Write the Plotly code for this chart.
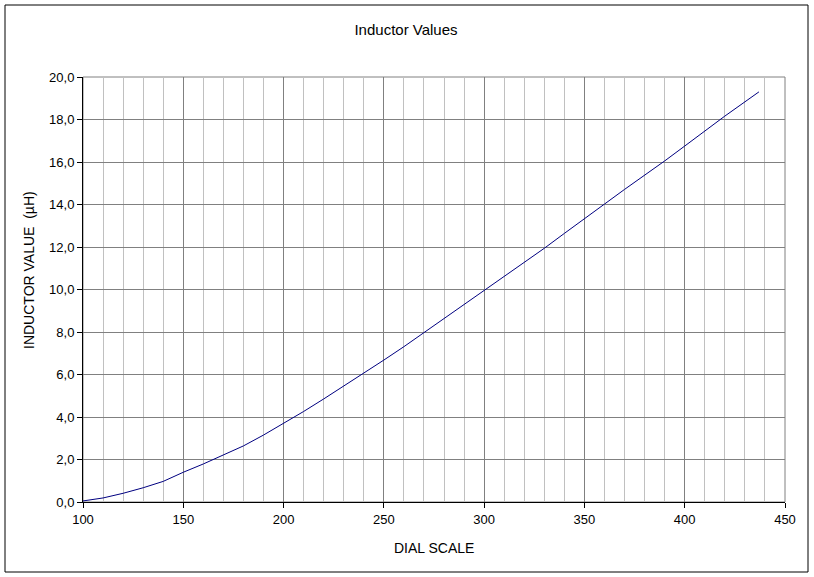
import plotly.graph_objects as go

# dial scale readings and the matching inductor values (uH)
dial = [100, 110, 120, 130, 140, 150, 160, 170, 180, 190, 200, 210, 220,
        230, 240, 250, 260, 270, 280, 290, 300, 310, 320, 330, 340, 350,
        360, 370, 380, 390, 400, 410, 420, 437]
inductance = [0.05, 0.19, 0.41, 0.67, 0.97, 1.40, 1.79, 2.20, 2.64, 3.15,
              3.70, 4.26, 4.85, 5.45, 6.06, 6.68, 7.31, 7.97, 8.64, 9.27,
              9.94, 10.62, 11.28, 11.94, 12.64, 13.35, 14.02, 14.71, 15.36,
              16.05, 16.75, 17.47, 18.16, 19.30]

x_ticks = [100, 150, 200, 250, 300, 350, 400, 450]
y_ticks = [0, 2, 4, 6, 8, 10, 12, 14, 16, 18, 20]

W, H = 814, 577
L, R, T, B = 83, 29, 77, 75
pw, ph = W - L - R, H - T - B


def px_x(p):
    return (p - L) / pw


def px_y(p):
    return (H - B - p) / ph


font = "Liberation Sans, Arial, sans-serif"

fig = go.Figure()
fig.add_trace(go.Scatter(x=dial, y=inductance, mode="lines",
                         line=dict(color="#000080", width=1),
                         hoverinfo="x+y"))

fig.update_layout(
    width=W, height=H,
    margin=dict(l=L, r=R, t=T, b=B),
    paper_bgcolor="white", plot_bgcolor="white",
    separators=",.",
    showlegend=False,
    font=dict(family=font, size=13, color="black"),
    title=dict(text="Inductor Values", x=406 / W, xanchor="center",
               y=1 - 30 / H, yanchor="middle",
               font=dict(family=font, size=15, color="black")),
)

fig.update_xaxes(
    range=[100, 450], tickvals=x_ticks, ticks="outside", ticklen=5,
    tickcolor="black", showline=True, linecolor="black", linewidth=1,
    showgrid=True, gridcolor="#808080", gridwidth=1, zeroline=False,
    minor=dict(dtick=10, showgrid=True, gridcolor="#c0c0c0", ticks=""),
    tickfont=dict(size=13),
)
fig.update_yaxes(
    range=[0, 20], tickvals=y_ticks, tickformat=".1f", ticks="outside",
    ticklen=5, tickcolor="black", showline=True, linecolor="black",
    linewidth=1, showgrid=True, gridcolor="#808080", gridwidth=1,
    zeroline=False, tickfont=dict(size=13),
)

# gray frame on top/right of the plot area
fig.add_shape(type="rect", xref="paper", yref="paper", x0=0, x1=1, y0=0, y1=1,
              line=dict(color="#808080", width=1), layer="below")
# outer chart border
fig.add_shape(type="rect", xref="paper", yref="paper",
              x0=px_x(5), x1=px_x(808), y0=px_y(572), y1=px_y(5),
              line=dict(color="black", width=1))

fig.add_annotation(text="DIAL SCALE", xref="paper", yref="paper",
                   x=px_x(434), y=px_y(548), showarrow=False,
                   font=dict(size=14), xanchor="center", yanchor="middle")
fig.add_annotation(text="INDUCTOR VALUE  (µH)", xref="paper", yref="paper",
                   x=px_x(29), y=px_y(270), showarrow=False, textangle=-90,
                   font=dict(size=14), xanchor="center", yanchor="middle")

# page has a default body margin, drop it so the chart sits at the top-left
fig.write_html("out.html", config={"displayModeBar": False},
               post_script="document.body.style.margin='0';")
